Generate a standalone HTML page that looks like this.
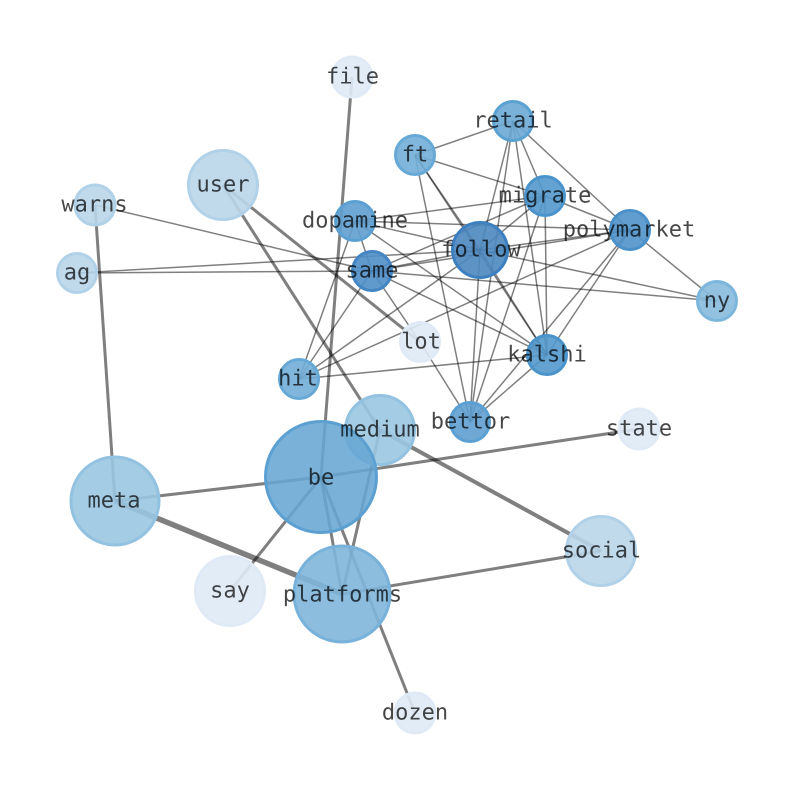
<!DOCTYPE html>
<html>
<head>
<meta charset="utf-8">
<style>
html,body{margin:0;padding:0;background:#fff;width:794px;height:790px;overflow:hidden}
svg{display:block}
text{font-family:"DejaVu Sans Mono","Liberation Mono",monospace;font-size:22px;fill:#000;fill-opacity:.72;text-anchor:middle;dominant-baseline:central;text-rendering:geometricPrecision}
.t line{stroke:#000;stroke-opacity:.5;stroke-width:1.5}
.m line{stroke:#000;stroke-opacity:.5;stroke-width:3}
.k line{stroke:#000;stroke-opacity:.5;stroke-width:4}
.x line{stroke:#000;stroke-opacity:.5;stroke-width:5.5}
circle{stroke-width:3}
</style>
</head>
<body>
<svg width="794" height="790" viewBox="0 0 794 790" xmlns="http://www.w3.org/2000/svg">
<g class="t">
<line x1="415" y1="155" x2="513" y2="121"/>
<line x1="415" y1="155" x2="545" y2="196"/>
<line x1="415" y1="155" x2="480" y2="250"/>
<line x1="415" y1="155" x2="547" y2="355"/>
<line x1="415" y1="155" x2="470" y2="422"/>
<line x1="513" y1="121" x2="480" y2="250"/>
<line x1="513" y1="121" x2="470" y2="422"/>
<line x1="513" y1="121" x2="547" y2="355"/>
<line x1="513" y1="121" x2="545" y2="196"/>
<line x1="513" y1="121" x2="630" y2="230"/>
<line x1="545" y1="196" x2="355" y2="221"/>
<line x1="545" y1="196" x2="480" y2="250"/>
<line x1="545" y1="196" x2="372" y2="271"/>
<line x1="545" y1="196" x2="630" y2="230"/>
<line x1="545" y1="196" x2="547" y2="355"/>
<line x1="545" y1="196" x2="470" y2="422"/>
<line x1="630" y1="230" x2="355" y2="221"/>
<line x1="630" y1="230" x2="480" y2="250"/>
<line x1="630" y1="230" x2="372" y2="271"/>
<line x1="630" y1="230" x2="299" y2="379"/>
<line x1="630" y1="230" x2="547" y2="355"/>
<line x1="630" y1="230" x2="470" y2="422"/>
<line x1="630" y1="230" x2="717" y2="301"/>
<line x1="480" y1="250" x2="372" y2="271"/>
<line x1="480" y1="250" x2="547" y2="355"/>
<line x1="480" y1="250" x2="470" y2="422"/>
<line x1="480" y1="250" x2="299" y2="379"/>
<line x1="480" y1="250" x2="77" y2="273"/>
<line x1="355" y1="221" x2="372" y2="271"/>
<line x1="355" y1="221" x2="299" y2="379"/>
<line x1="355" y1="221" x2="547" y2="355"/>
<line x1="372" y1="271" x2="299" y2="379"/>
<line x1="372" y1="271" x2="420" y2="342"/>
<line x1="372" y1="271" x2="547" y2="355"/>
<line x1="372" y1="271" x2="717" y2="301"/>
<line x1="372" y1="271" x2="77" y2="273"/>
<line x1="372" y1="271" x2="95" y2="205"/>
<line x1="299" y1="379" x2="547" y2="355"/>
<line x1="420" y1="342" x2="470" y2="422"/>
<line x1="547" y1="355" x2="470" y2="422"/>
<line x1="480" y1="250" x2="717" y2="301"/>
<line x1="355" y1="221" x2="480" y2="250"/>
</g>
<g class="m">
<line x1="95" y1="205" x2="115" y2="501"/>
<line x1="352" y1="77" x2="321" y2="477"/>
<line x1="115" y1="501" x2="321" y2="477"/>
<line x1="321" y1="477" x2="639" y2="429"/>
<line x1="321" y1="477" x2="230" y2="591"/>
<line x1="321" y1="477" x2="342" y2="594"/>
<line x1="321" y1="477" x2="415" y2="713"/>
<line x1="380" y1="430" x2="342" y2="594"/>
<line x1="342" y1="594" x2="601" y2="551"/>
<line x1="223" y1="185" x2="420" y2="342"/>
<line x1="223" y1="185" x2="380" y2="430"/>
</g>
<g class="k">
<line x1="380" y1="430" x2="601" y2="551"/>
</g>
<g class="x">
<line x1="115" y1="501" x2="342" y2="594"/>
</g>
<g>
<circle cx="352" cy="77" r="20" fill="#dfeaf6" stroke="#dfeaf6" fill-opacity=".9"/>
<circle cx="513" cy="121" r="19.5" fill="#6aa9d5" stroke="#5aa2d2" fill-opacity=".9"/>
<circle cx="415" cy="155" r="19.5" fill="#72aed8" stroke="#66a9d6" fill-opacity=".9"/>
<circle cx="223" cy="185" r="34.5" fill="#b9d6ea" stroke="#b0d1e8" fill-opacity=".9"/>
<circle cx="95" cy="205" r="20" fill="#b9d6ea" stroke="#b0d1e8" fill-opacity=".9"/>
<circle cx="545" cy="196" r="19.5" fill="#5298cc" stroke="#4a93cb" fill-opacity=".9"/>
<circle cx="355" cy="221" r="19.5" fill="#619fd0" stroke="#5aa0d2" fill-opacity=".9"/>
<circle cx="630" cy="230" r="19.5" fill="#5094ca" stroke="#4a90c9" fill-opacity=".9"/>
<circle cx="480" cy="250" r="27.5" fill="#4c87bf" stroke="#3d80bf" fill-opacity=".9"/>
<circle cx="372" cy="271" r="19.5" fill="#4f8ec6" stroke="#4386c3" fill-opacity=".9"/>
<circle cx="77" cy="273" r="19.5" fill="#b9d6ea" stroke="#b0d1e8" fill-opacity=".9"/>
<circle cx="717" cy="301" r="19.5" fill="#86bbdd" stroke="#7db6dc" fill-opacity=".9"/>
<circle cx="420" cy="342" r="19.5" fill="#dfeaf6" stroke="#dfeaf6" fill-opacity=".9"/>
<circle cx="547" cy="355" r="19.5" fill="#5298cc" stroke="#4a93cb" fill-opacity=".9"/>
<circle cx="299" cy="379" r="19.5" fill="#72aed8" stroke="#66a9d6" fill-opacity=".9"/>
<circle cx="470" cy="422" r="19.5" fill="#619fd0" stroke="#5aa0d2" fill-opacity=".9"/>
<circle cx="380" cy="430" r="34.5" fill="#9ac7e2" stroke="#92c2e0" fill-opacity=".9"/>
<circle cx="639" cy="429" r="20" fill="#dfeaf6" stroke="#dfeaf6" fill-opacity=".9"/>
<circle cx="321" cy="477" r="55.5" fill="#66a6d3" stroke="#5ca0d1" fill-opacity=".88"/>
<circle cx="115" cy="501" r="44" fill="#9ac7e2" stroke="#92c2e0" fill-opacity=".9"/>
<circle cx="601" cy="551" r="34.5" fill="#b9d6ea" stroke="#b0d1e8" fill-opacity=".9"/>
<circle cx="230" cy="591" r="34.5" fill="#dfeaf6" stroke="#dfeaf6" fill-opacity=".9"/>
<circle cx="342" cy="594" r="48" fill="#7fb6dc" stroke="#78b2da" fill-opacity=".9"/>
<circle cx="415" cy="713" r="20" fill="#dfeaf6" stroke="#dfeaf6" fill-opacity=".9"/>
</g>
<g>
<text x="352.5" y="77">file</text>
<text x="513" y="121">retail</text>
<text x="415" y="155">ft</text>
<text x="223" y="185">user</text>
<text x="94.5" y="205">warns</text>
<text x="545" y="196">migrate</text>
<text x="355" y="221">dopamine</text>
<text x="629" y="230">polymarket</text>
<text x="481" y="250">follow</text>
<text x="372" y="271">same</text>
<text x="77" y="273">ag</text>
<text x="717" y="301">ny</text>
<text x="421" y="342">lot</text>
<text x="547" y="355">kalshi</text>
<text x="298" y="379">hit</text>
<text x="470.5" y="422">bettor</text>
<text x="380" y="430">medium</text>
<text x="639" y="429">state</text>
<text x="321" y="478">be</text>
<text x="114" y="501">meta</text>
<text x="601.5" y="551">social</text>
<text x="230" y="591">say</text>
<text x="342.5" y="595">platforms</text>
<text x="415" y="713">dozen</text>
</g>
</svg>
</body>
</html>
